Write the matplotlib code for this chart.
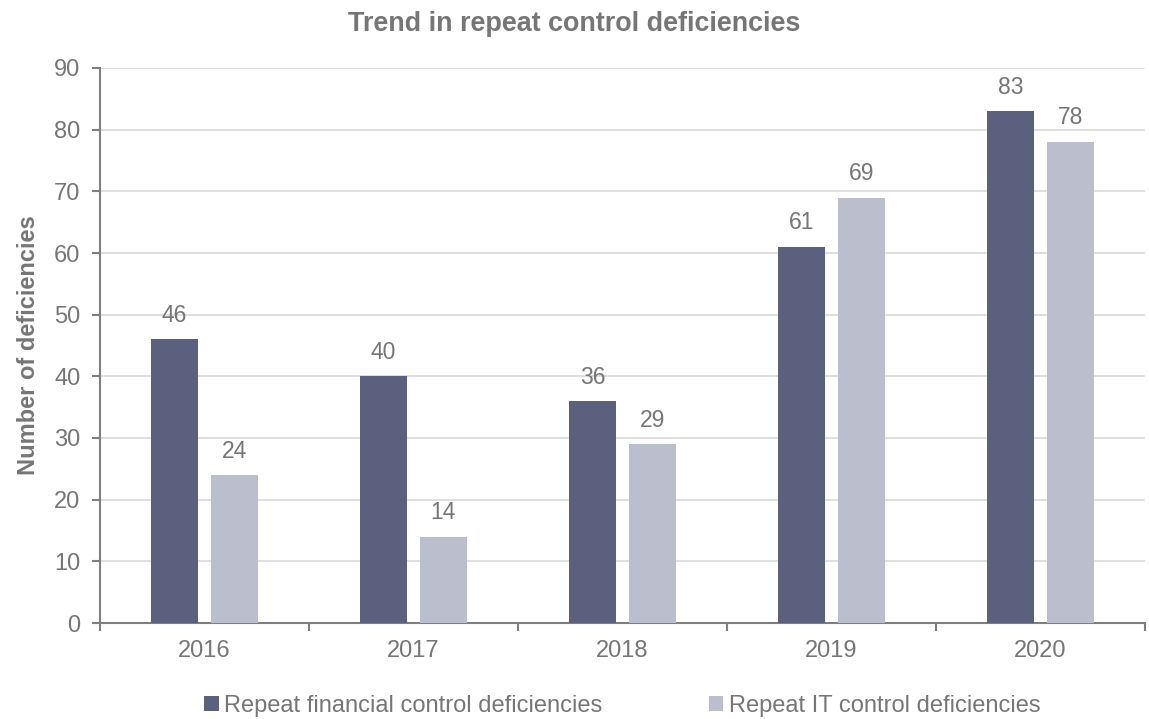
import numpy as np
import matplotlib.pyplot as plt

plt.rcParams['font.family'] = ['Liberation Sans', 'DejaVu Sans']

years = ['2016', '2017', '2018', '2019', '2020']
financial = [46, 40, 36, 61, 83]
it = [24, 14, 29, 69, 78]

dark = '#5a607e'
light = '#bbbecd'
txt = '#767676'
axis_col = '#7f7f7f'

fig = plt.figure(figsize=(11.49, 7.19), dpi=100)
ax = fig.add_axes([100 / 1149, 96 / 719, 1045 / 1149, 555 / 719])

x = np.arange(len(years))
w = 0.225
off = 0.143
b1 = ax.bar(x - off, financial, w, color=dark, label='Repeat financial control deficiencies', zorder=3)
b2 = ax.bar(x + off, it, w, color=light, label='Repeat IT control deficiencies', zorder=3)

for bars, vals in ((b1, financial), (b2, it)):
    for rect, v in zip(bars, vals):
        ax.annotate(str(v), (rect.get_x() + rect.get_width() / 2, v),
                    xytext=(0, 9), textcoords='offset points',
                    ha='center', va='bottom', fontsize=16.5, color=txt)

ax.set_xlim(-0.5, len(years) - 0.5)
ax.set_ylim(0, 90)
ax.set_yticks(range(0, 91, 10))
ax.set_xticks(x)
ax.set_xticklabels(years)
ax.set_xticks(np.arange(-0.5, len(years), 1.0), minor=True)

ax.grid(axis='y', color='#d9d9d9', linewidth=1.2, zorder=0)
for s in ('top', 'right'):
    ax.spines[s].set_visible(False)
for s in ('left', 'bottom'):
    ax.spines[s].set_color(axis_col)
    ax.spines[s].set_linewidth(1.5)

ax.tick_params(axis='y', colors=axis_col, labelcolor=txt, labelsize=17, length=6, width=1.5, pad=8)
ax.tick_params(axis='x', which='major', length=0, labelcolor=txt, labelsize=17, pad=12)
ax.tick_params(axis='x', which='minor', colors=axis_col, length=6, width=1.5)

ax.set_ylabel('Number of deficiencies', fontsize=17, fontweight='bold', color=txt, labelpad=10)
fig.suptitle('Trend in repeat control deficiencies', x=0.5, y=0.985, fontsize=19.4,
             fontweight='bold', color=txt)

ax.legend(loc='upper center', bbox_to_anchor=(0.5, -0.092), ncol=2, frameon=False,
          fontsize=17, labelcolor=txt, handlelength=0.6, handleheight=0.6,
          handletextpad=0.25, columnspacing=4.5)

fig.savefig('out.png', dpi=100)
